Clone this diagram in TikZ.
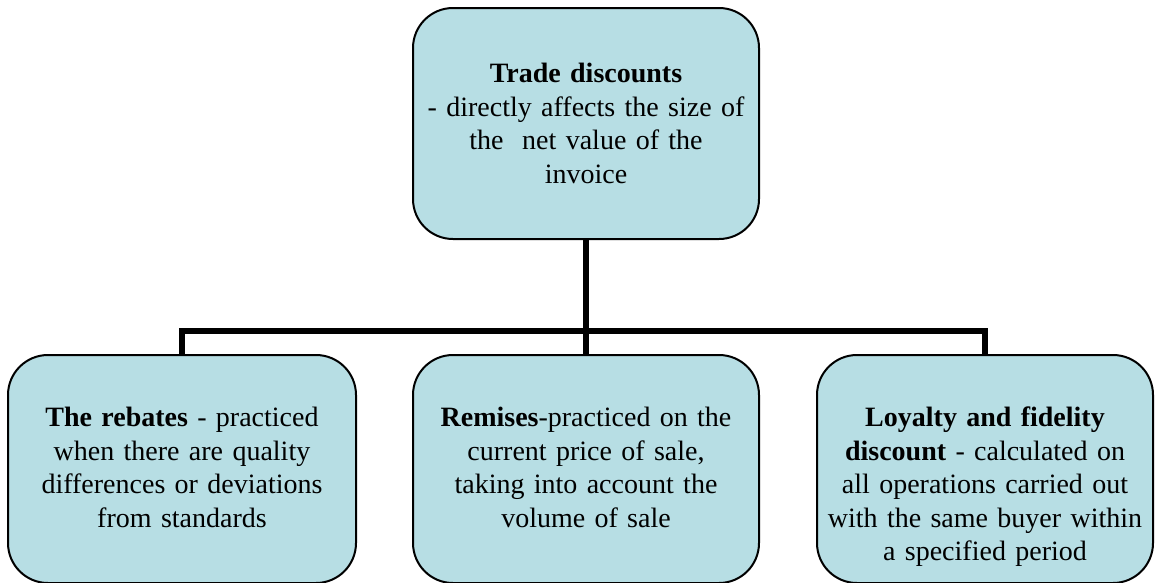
\documentclass[tikz,border=0pt]{standalone}
\usepackage{fontspec}
\setmainfont{Liberation Serif}
\usetikzlibrary{positioning}

\definecolor{boxblue}{RGB}{183,222,228}

\tikzset{
  box/.style={draw=black, line width=2pt, fill=boxblue, rounded corners=40pt,
              minimum width=346pt, minimum height=231pt, inner sep=0pt},
  txt/.style={text width=340pt, align=center, inner sep=0pt,
              font=\fontsize{28}{33.5}\selectfont},
  link/.style={line width=6pt}
}

\begin{document}
\begin{tikzpicture}[x=1pt,y=-1pt]

    \useasboundingbox (0,0) rectangle (1156,582);

    % 上层和下层的方框
    \node[box]                                      (trade)   at (586,123.5) {};
    \node[box, minimum width=348pt, minimum height=228pt] (rebates) at (182,469) {};
    \node[box, minimum height=228pt]                (remises) at (586,469) {};
    \node[box, minimum width=336pt, minimum height=228pt] (loyalty) at (985,469) {};

    % 方框中的文字
    \node[txt, below=56pt of trade.north]   (tradetxt)
      {\textbf{Trade discounts}\\- directly affects the size of\\the\ \ net value of the\\invoice};
    \node[txt, below=53pt of rebates.north] (rebatestxt)
      {\textbf{The rebates} - practiced\\when there are quality\\differences or deviations\\from standards};
    \node[txt, below=53pt of remises.north] (remisestxt)
      {\textbf{Remises}-practiced on the\\current price of sale,\\taking into account the\\volume of sale};
    \node[txt, below=53pt of loyalty.north] (loyaltytxt)
      {\textbf{Loyalty and fidelity}\\\textbf{discount} - calculated on\\all operations carried out\\with the same buyer within\\a specified period};

    % 连接线
    \coordinate (bar) at (586,331);
    \draw[link] (trade.south) -- (remises.north);
    \draw[link] (rebates.north) |- (bar) -| (loyalty.north);

\end{tikzpicture}
\end{document}
